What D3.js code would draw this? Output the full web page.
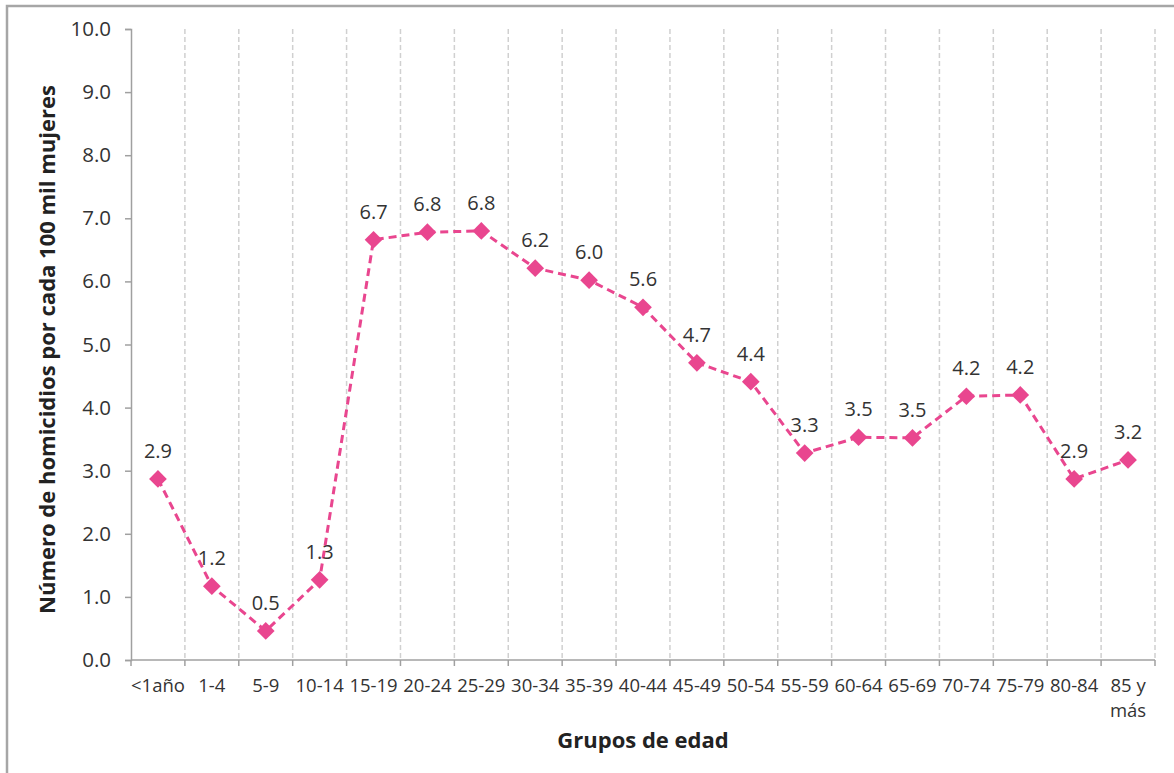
<!DOCTYPE html>
<html>
<head>
<meta charset="utf-8">
<script src="https://cdn.jsdelivr.net/npm/d3@7"></script>
<style>
  body { margin: 0; background: #fff; font-family: "Open Sans", sans-serif; }
</style>
</head>
<body>
<script>
// age groups and rates (homicides per 100k women)
const groups = ["<1año", "1-4", "5-9", "10-14", "15-19", "20-24", "25-29", "30-34", "35-39",
  "40-44", "45-49", "50-54", "55-59", "60-64", "65-69", "70-74", "75-79", "80-84", "85 y más"];
const groupLines = groups.map((d) => d === "85 y más" ? ["85 y", "más"] : [d]);
const rates = [2.87, 1.17, 0.46, 1.27, 6.66, 6.78, 6.80, 6.21, 6.02,
  5.59, 4.71, 4.41, 3.28, 3.53, 3.52, 4.18, 4.20, 2.87, 3.17];
const yTicks = [0, 1, 2, 3, 4, 5, 6, 7, 8, 9, 10];

const width = 1174;
const height = 773;
const margin = { top: 29, right: 19, bottom: 113, left: 131 };
const pink = "#e9468f";

const svg = d3.select("body").append("svg")
  .attr("width", width)
  .attr("height", height);

// outer frame
svg.append("path")
  .attr("d", `M7,${height} V6 H${width}`)
  .attr("fill", "none")
  .attr("stroke", "#a6a6a6")
  .attr("stroke-width", 2.5);

const x = d3.scaleBand()
  .domain(groups)
  .range([margin.left, width - margin.right]);
const y = d3.scaleLinear()
  .domain([0, 10])
  .range([height - margin.bottom, margin.top]);

// vertical dashed gridlines at category boundaries
const bounds = groups.slice(1).map((d) => x(d)).concat([x.range()[1]]);
svg.append("g")
  .selectAll("line")
  .data(bounds)
  .enter()
  .append("line")
  .attr("x1", (d) => d)
  .attr("x2", (d) => d)
  .attr("y1", y(10))
  .attr("y2", y(0))
  .attr("stroke", "#d0d0d0")
  .attr("stroke-width", 1.5)
  .attr("stroke-dasharray", "5,3");

// y axis
const yAxis = svg.append("g")
  .attr("transform", `translate(${margin.left},0)`)
  .call(d3.axisLeft(y).tickValues(yTicks).tickFormat(d3.format(".1f")).tickSize(6).tickPadding(14));
yAxis.select(".domain").attr("stroke", "#a0a0a0").attr("stroke-width", 1.5);
yAxis.selectAll(".tick line").attr("stroke", "#a0a0a0").attr("stroke-width", 1.5);
yAxis.selectAll("text")
  .attr("font-family", "Open Sans, sans-serif")
  .attr("font-size", 20.5)
  .attr("fill", "#333");

// x axis, ticks at category boundaries
const xAxisG = svg.append("g")
  .attr("transform", `translate(0,${y(0)})`);
xAxisG.append("line")
  .attr("x1", x.range()[0]).attr("x2", x.range()[1])
  .attr("stroke", "#a0a0a0").attr("stroke-width", 1.5);
xAxisG.selectAll(".xtick")
  .data([x.range()[0]].concat(bounds))
  .enter()
  .append("line")
  .attr("x1", (d) => d).attr("x2", (d) => d)
  .attr("y1", 0).attr("y2", 6)
  .attr("stroke", "#a0a0a0").attr("stroke-width", 1.5);
groupLines.forEach((lines, i) => {
  lines.forEach((txt, j) => {
    xAxisG.append("text")
      .attr("x", x(groups[i]) + x.bandwidth() / 2)
      .attr("y", 32 + j * 25)
      .attr("text-anchor", "middle")
      .attr("font-size", 18.5)
      .attr("fill", "#333")
      .text(txt);
  });
});

// axis titles
svg.append("text")
  .attr("x", (x.range()[0] + x.range()[1]) / 2)
  .attr("y", 748)
  .attr("text-anchor", "middle")
  .attr("font-size", 22)
  .attr("font-weight", "bold")
  .attr("fill", "#222")
  .text("Grupos de edad");
svg.append("text")
  .attr("transform", `translate(55,${(y(0) + y(10)) / 2 + 5}) rotate(-90)`)
  .attr("text-anchor", "middle")
  .attr("font-size", 22)
  .attr("font-weight", "bold")
  .attr("fill", "#222")
  .text("Número de homicidios por cada 100 mil mujeres");

// line
const cx = (d, i) => x(groups[i]) + x.bandwidth() / 2;
const line = d3.line()
  .x(cx)
  .y((d) => y(d));
svg.append("path")
  .datum(rates)
  .attr("d", line)
  .attr("fill", "none")
  .attr("stroke", pink)
  .attr("stroke-width", 3)
  .attr("stroke-dasharray", "8,5");

// diamond markers
svg.selectAll(".marker")
  .data(rates)
  .enter()
  .append("path")
  .attr("d", d3.symbol().type(d3.symbolDiamond2).size(200))
  .attr("transform", (d, i) => `translate(${cx(d, i)},${y(d)})`)
  .attr("fill", pink);

// data labels
svg.selectAll(".vlabel")
  .data(rates)
  .enter()
  .append("text")
  .attr("x", cx)
  .attr("y", (d) => y(d) - 21)
  .attr("text-anchor", "middle")
  .attr("font-size", 20)
  .attr("fill", "#333")
  .text((d) => d3.format(".1f")(d));
</script>
</body>
</html>
